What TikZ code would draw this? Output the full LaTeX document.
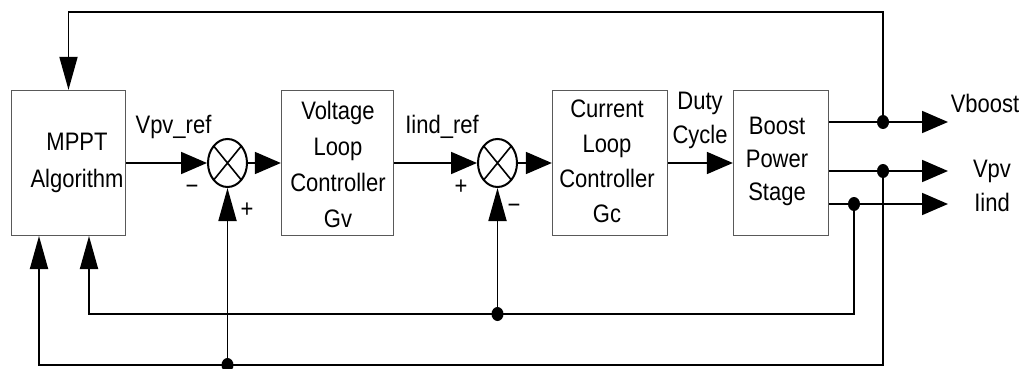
\documentclass[tikz,border=0pt]{standalone}
\usepackage{fontspec}
\setmainfont{Liberation Sans}
\usetikzlibrary{arrows.meta,shapes.geometric}
\begin{document}
\begin{tikzpicture}[x=1pt,y=-1pt,
  blk/.style={draw=black!65, line width=1.3pt, minimum width=#1, minimum height=145pt, inner sep=0pt},
  sumnode/.style={ellipse, draw, line width=2pt, minimum width=39pt, minimum height=48pt, inner sep=0pt,
    path picture={\draw[line width=1.6pt] (path picture bounding box.north west) -- (path picture bounding box.south east)
      (path picture bounding box.north east) -- (path picture bounding box.south west);}},
  wire/.style={line width=1.8pt},
  harr/.style={wire,-{Triangle[length=26pt,width=22pt]}},
  varr/.style={wire,-{Triangle[length=33pt,width=18pt]}},
  dotnode/.style={ellipse, fill, inner sep=0pt, minimum width=12pt, minimum height=14pt},
  btxt/.style={inner sep=0pt, align=center, yscale=1.15, font=\fontsize{22pt}{#1}\selectfont},
  lbl/.style={font=\fontsize{22pt}{26pt}\selectfont, inner sep=0pt, anchor=base, yscale=1.15}]
\useasboundingbox (0,0) rectangle (1031,369);

% blocks
\node[blk=114pt] (mppt) at (68.5,163) {};
\node[blk=112pt] (vl) at (337.5,163) {};
\node[blk=115pt] (cl) at (610,163) {};
\node[blk=95pt] (bp) at (781,163) {};

% block texts
\node[btxt=32.2pt] (tm) at (77,163) {MPPT\\Algorithm};
\node[btxt=31.3pt] (tv) at (338,164) {Voltage\\Loop\\Controller\\Gv};
\node[btxt=30.4pt] (tc) at (607,161) {Current\\Loop\\Controller\\Gc};
\node[btxt=28.7pt] (tb) at (777,161) {Boost\\Power\\Stage};

% summing junctions
\node[sumnode] (s1) at (227.5,163) {};
\node[sumnode] (s2) at (497.5,163) {};

% forward path
\draw[harr] (mppt.east) -- (s1.west);
\draw[harr] (s1.east) -- (vl.west);
\draw[harr] (vl.east) -- (s2.west);
\draw[harr] (s2.east) -- (cl.west);
\draw[harr] (cl.east) -- (bp.west);

% outputs
\coordinate (o1) at (948,122);
\coordinate (o2) at (948,171);
\coordinate (o3) at (948,204);
\draw[harr] (bp.east |- o1) -- (o1);
\draw[harr] (bp.east |- o2) -- (o2);
\draw[harr] (bp.east |- o3) -- (o3);

% feedback coordinates
\coordinate (t1) at (883,12);
\coordinate (b1) at (883,365);
\coordinate (b2) at (854,314);
\coordinate (m1) at (39,236);
\coordinate (m2) at (89,236);

\node[dotnode] (j1) at (883,122) {};
\node[dotnode] (j2) at (883,171) {};
\node[dotnode] (j3) at (854,204) {};
\node[dotnode] (j4) at (s2 |- b2) {};
\node[dotnode] (j5) at (s1 |- b1) {};

\draw[varr] (j1.center) -- (t1) -| (mppt.north);
\draw[varr] (j2.center) -- (b1) -| (m1);
\draw[varr] (j3.center) -- (b2) -| (m2);
\draw[varr] (j4.center) -- (s2.south);
\draw[varr] (j5.center) -- (s1.south);

% labels
\node[lbl] (lvref) at (173.5,133) {Vpv\_ref};
\node[lbl] (liref) at (442,133) {Iind\_ref};
\node[lbl] (lm1) at (192,194) {−};
\node[lbl] (lp1) at (247,217) {+};
\node[lbl] (lp2) at (461,194) {+};
\node[lbl] (lm2) at (514,213) {−};
\node[lbl] (lduty) at (700,109) {Duty};
\node[lbl] (lcyc) at (700,143) {Cycle};
\node[lbl] (lvb) at (985,113) {Vboost};
\node[lbl] (lvpv) at (992,177) {Vpv};
\node[lbl] (liind) at (992,211) {Iind};
\end{tikzpicture}
\end{document}
